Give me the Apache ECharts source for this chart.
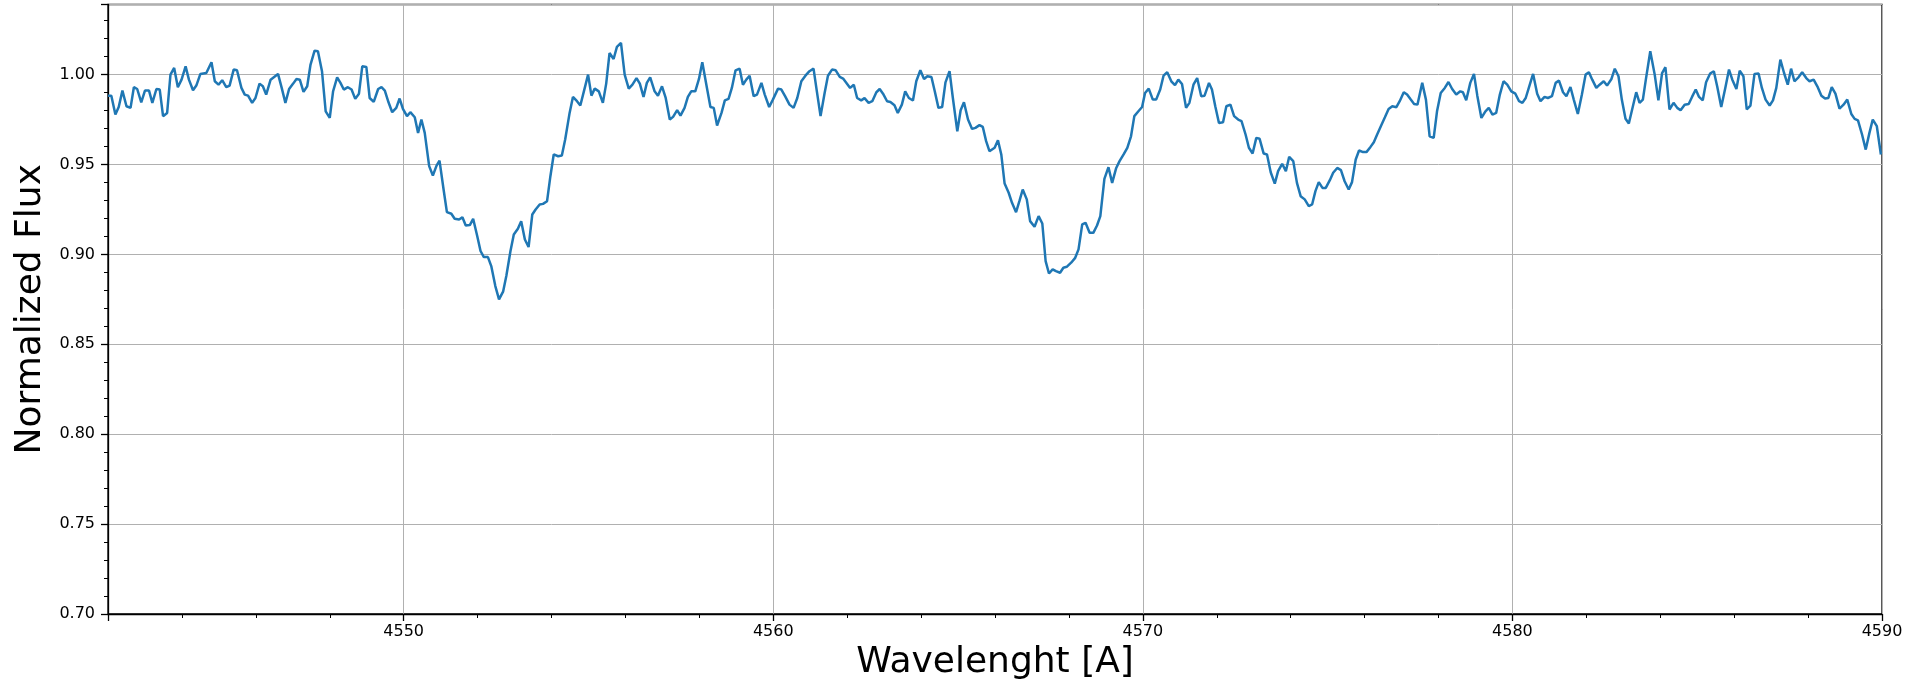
<!DOCTYPE html>
<html>
<head>
<meta charset="utf-8">
<script src="https://cdn.jsdelivr.net/npm/echarts@6/dist/echarts.min.js"></script>
<style>
  html, body { margin: 0; padding: 0; background: #fff; }
  #chart { width: 1907px; height: 686px; }
</style>
</head>
<body>
<div id="chart"></div>
<script>
// Spectrum samples: wavelength in Angstrom and continuum-normalized flux
const wavelength = [
  4542.00, 4542.09, 4542.20, 4542.29, 4542.39, 4542.50, 4542.61, 4542.70, 4542.79, 4542.90,
  4543.00, 4543.11, 4543.20, 4543.31, 4543.40, 4543.49, 4543.60, 4543.69, 4543.79, 4543.89,
  4543.99, 4544.10, 4544.19, 4544.30, 4544.39, 4544.50, 4544.66, 4544.80, 4544.89, 4544.99,
  4545.09, 4545.20, 4545.29, 4545.40, 4545.49, 4545.61, 4545.70, 4545.79, 4545.90, 4545.99,
  4546.10, 4546.19, 4546.28, 4546.40, 4546.60, 4546.70, 4546.80, 4546.90, 4547.01, 4547.10,
  4547.19, 4547.29, 4547.39, 4547.48, 4547.59, 4547.68, 4547.79, 4547.89, 4548.00,
  4548.09, 4548.20, 4548.29, 4548.38, 4548.49, 4548.59, 4548.69, 4548.79, 4548.88, 4548.99,
  4549.08, 4549.19, 4549.31, 4549.40, 4549.49, 4549.59, 4549.69, 4549.80, 4549.89, 4549.98,
  4550.09, 4550.18, 4550.30, 4550.39, 4550.48, 4550.57, 4550.69, 4550.79, 4550.89, 4550.97,
  4551.08, 4551.17, 4551.29, 4551.38, 4551.50, 4551.59, 4551.68, 4551.79, 4551.88, 4551.99,
  4552.08, 4552.17, 4552.28, 4552.37, 4552.48, 4552.58, 4552.69, 4552.78, 4552.89, 4552.98,
  4553.09, 4553.18, 4553.28, 4553.38, 4553.48, 4553.57, 4553.68, 4553.77, 4553.88, 4553.97,
  4554.06, 4554.18, 4554.28, 4554.37, 4554.49, 4554.58, 4554.69, 4554.78, 4554.90, 4554.99,
  4555.08, 4555.17, 4555.28, 4555.39, 4555.48, 4555.57, 4555.68, 4555.77, 4555.88, 4555.98,
  4556.09, 4556.19, 4556.30, 4556.39, 4556.49, 4556.58, 4556.67, 4556.79, 4556.88, 4556.99,
  4557.09, 4557.20, 4557.29, 4557.40, 4557.49, 4557.60, 4557.69, 4557.78, 4557.89, 4557.99,
  4558.08, 4558.19, 4558.30, 4558.39, 4558.48, 4558.60, 4558.69, 4558.79, 4558.88, 4558.98,
  4559.09, 4559.18, 4559.27, 4559.36, 4559.47, 4559.56, 4559.68, 4559.77, 4559.89,
  4559.99, 4560.13, 4560.22, 4560.32, 4560.44, 4560.55, 4560.65, 4560.76, 4560.87, 4560.98,
  4561.09, 4561.18, 4561.28, 4561.39, 4561.48, 4561.59, 4561.69, 4561.80, 4561.89, 4561.98,
  4562.08, 4562.18, 4562.27, 4562.38, 4562.47, 4562.58, 4562.68, 4562.79, 4562.88, 4562.97,
  4563.08, 4563.17, 4563.28, 4563.37, 4563.48, 4563.57, 4563.67, 4563.78, 4563.87, 4563.98,
  4564.08, 4564.17, 4564.28, 4564.37, 4564.47, 4564.57, 4564.66, 4564.77, 4564.86, 4564.98,
  4565.07, 4565.16, 4565.27, 4565.38, 4565.47, 4565.58, 4565.67, 4565.76, 4565.85,
  4565.99, 4566.08, 4566.17, 4566.26, 4566.37, 4566.46, 4566.57, 4566.66, 4566.75, 4566.86,
  4566.95, 4567.07, 4567.18, 4567.28, 4567.37, 4567.46, 4567.56, 4567.65, 4567.76, 4567.85,
  4567.94, 4568.06, 4568.17, 4568.26, 4568.36, 4568.45, 4568.56, 4568.66, 4568.76, 4568.85,
  4568.96, 4569.07, 4569.17, 4569.28, 4569.37, 4569.48, 4569.58, 4569.68, 4569.77, 4569.88,
  4569.98, 4570.06, 4570.16, 4570.27, 4570.36, 4570.47, 4570.56, 4570.66, 4570.77, 4570.87,
  4570.96, 4571.06, 4571.17, 4571.26, 4571.37, 4571.47, 4571.58, 4571.67, 4571.79,
  4571.87, 4571.96, 4572.06, 4572.17, 4572.26, 4572.37, 4572.47, 4572.58, 4572.67, 4572.78,
  4572.87, 4572.97, 4573.07, 4573.16, 4573.27, 4573.36, 4573.46, 4573.57, 4573.66, 4573.77,
  4573.87, 4573.96, 4574.07, 4574.17, 4574.27, 4574.38, 4574.49, 4574.58, 4574.67, 4574.76,
  4574.86, 4574.95, 4575.06, 4575.15, 4575.26, 4575.36, 4575.46, 4575.57, 4575.66, 4575.76,
  4575.85, 4575.96, 4576.05, 4576.16, 4576.25, 4576.34, 4576.44, 4576.55, 4576.65, 4576.75,
  4576.86, 4576.95, 4577.06, 4577.15, 4577.25, 4577.34, 4577.43, 4577.56, 4577.66, 4577.76,
  4577.87, 4577.96, 4578.06, 4578.17, 4578.27, 4578.37, 4578.48, 4578.59, 4578.66, 4578.75,
  4578.86, 4578.96, 4579.05, 4579.16, 4579.27, 4579.36, 4579.46, 4579.56, 4579.66, 4579.76,
  4579.86, 4579.97, 4580.08, 4580.18, 4580.27, 4580.36, 4580.47, 4580.56, 4580.67, 4580.76,
  4580.87, 4580.96, 4581.07, 4581.17, 4581.26, 4581.37, 4581.46, 4581.57, 4581.66, 4581.77,
  4581.88, 4581.98, 4582.07, 4582.16, 4582.27, 4582.36, 4582.47, 4582.56, 4582.68, 4582.77,
  4582.87, 4582.96, 4583.06, 4583.15, 4583.26, 4583.35, 4583.44, 4583.53, 4583.61, 4583.73,
  4583.85, 4583.95, 4584.05, 4584.14, 4584.25, 4584.36, 4584.46, 4584.55, 4584.66, 4584.77,
  4584.86, 4584.96, 4585.05, 4585.15, 4585.24, 4585.35, 4585.45, 4585.54, 4585.65, 4585.76,
  4585.86, 4585.95, 4586.06, 4586.15, 4586.25, 4586.34, 4586.44, 4586.55, 4586.66, 4586.75,
  4586.85, 4586.96, 4587.05, 4587.14, 4587.25, 4587.35, 4587.45, 4587.54, 4587.63, 4587.74,
  4587.84, 4587.95, 4588.04, 4588.15, 4588.25, 4588.36, 4588.46, 4588.55, 4588.64, 4588.74,
  4588.85, 4588.96, 4589.06, 4589.17, 4589.26, 4589.35, 4589.46, 4589.56, 4589.66, 4589.75,
  4589.86, 4589.97
];

const flux = [
  0.9883, 0.9883, 0.9778, 0.9820, 0.9911, 0.9824, 0.9815, 0.9930, 0.9920, 0.9846,
  0.9911, 0.9911, 0.9843, 0.9920, 0.9917, 0.9769, 0.9787, 1.0000, 1.0037, 0.9930,
  0.9972, 1.0046, 0.9972, 0.9913, 0.9939, 1.0004, 1.0009, 1.0069, 0.9963, 0.9944,
  0.9969, 0.9930, 0.9939, 1.0028, 1.0024, 0.9926, 0.9889, 0.9883, 0.9843, 0.9870,
  0.9950, 0.9935, 0.9889, 0.9972, 1.0004, 0.9926, 0.9843, 0.9920, 0.9950, 0.9976,
  0.9972, 0.9904, 0.9935, 1.0056, 1.0133, 1.0130, 1.0019, 0.9796, 0.9759,
  0.9907, 0.9985, 0.9954, 0.9917, 0.9930, 0.9917, 0.9865, 0.9894, 1.0046, 1.0043,
  0.9870, 0.9848, 0.9920, 0.9930, 0.9911, 0.9846, 0.9791, 0.9815, 0.9867, 0.9809,
  0.9769, 0.9791, 0.9763, 0.9676, 0.9750, 0.9676, 0.9491, 0.9439, 0.9494, 0.9522,
  0.9361, 0.9235, 0.9226, 0.9198, 0.9194, 0.9207, 0.9161, 0.9163, 0.9198, 0.9102,
  0.9019, 0.8985, 0.8985, 0.8935, 0.8824, 0.8750, 0.8793, 0.8883, 0.9019, 0.9111,
  0.9143, 0.9185, 0.9083, 0.9041, 0.9222, 0.9250, 0.9278, 0.9281, 0.9296, 0.9435,
  0.9556, 0.9546, 0.9550, 0.9639, 0.9787, 0.9876, 0.9852, 0.9828, 0.9926, 1.0000,
  0.9883, 0.9922, 0.9907, 0.9843, 0.9950, 1.0120, 1.0087, 1.0154, 1.0176, 1.0000,
  0.9922, 0.9944, 0.9981, 0.9950, 0.9876, 0.9954, 0.9985, 0.9907, 0.9883, 0.9935,
  0.9870, 0.9750, 0.9765, 0.9802, 0.9772, 0.9815, 0.9876, 0.9907, 0.9907, 0.9976,
  1.0069, 0.9944, 0.9820, 0.9815, 0.9717, 0.9787, 0.9857, 0.9865, 0.9926, 1.0024,
  1.0033, 0.9944, 0.9972, 0.9994, 0.9880, 0.9889, 0.9954, 0.9889, 0.9820,
  0.9861, 0.9922, 0.9917, 0.9880, 0.9833, 0.9815, 0.9870, 0.9963, 0.9994, 1.0019,
  1.0033, 0.9907, 0.9769, 0.9898, 0.9994, 1.0028, 1.0024, 0.9987, 0.9978, 0.9954,
  0.9926, 0.9944, 0.9870, 0.9857, 0.9869, 0.9843, 0.9852, 0.9902, 0.9920, 0.9894,
  0.9852, 0.9848, 0.9830, 0.9787, 0.9833, 0.9907, 0.9870, 0.9856, 0.9963, 1.0024,
  0.9976, 0.9991, 0.9987, 0.9907, 0.9815, 0.9820, 0.9957, 1.0019, 0.9870, 0.9685,
  0.9802, 0.9846, 0.9750, 0.9698, 0.9704, 0.9719, 0.9709, 0.9630, 0.9574,
  0.9593, 0.9635, 0.9556, 0.9394, 0.9343, 0.9287, 0.9235, 0.9296, 0.9361, 0.9306,
  0.9185, 0.9154, 0.9213, 0.9172, 0.8963, 0.8894, 0.8917, 0.8907, 0.8898, 0.8926,
  0.8931, 0.8954, 0.8981, 0.9028, 0.9167, 0.9176, 0.9120, 0.9120, 0.9161, 0.9213,
  0.9420, 0.9485, 0.9398, 0.9481, 0.9519, 0.9556, 0.9593, 0.9657, 0.9769, 0.9796,
  0.9820, 0.9898, 0.9922, 0.9861, 0.9861, 0.9917, 0.9994, 1.0013, 0.9963, 0.9941,
  0.9972, 0.9948, 0.9815, 0.9843, 0.9944, 0.9981, 0.9880, 0.9883, 0.9954,
  0.9917, 0.9824, 0.9731, 0.9735, 0.9824, 0.9833, 0.9769, 0.9750, 0.9741, 0.9667,
  0.9593, 0.9561, 0.9648, 0.9643, 0.9561, 0.9556, 0.9457, 0.9394, 0.9463, 0.9504,
  0.9463, 0.9543, 0.9519, 0.9398, 0.9324, 0.9306, 0.9269, 0.9278, 0.9352, 0.9402,
  0.9370, 0.9370, 0.9413, 0.9454, 0.9481, 0.9469, 0.9407, 0.9361, 0.9402, 0.9528,
  0.9578, 0.9569, 0.9569, 0.9598, 0.9624, 0.9667, 0.9713, 0.9763, 0.9809, 0.9824,
  0.9819, 0.9852, 0.9902, 0.9889, 0.9861, 0.9837, 0.9833, 0.9954, 0.9861, 0.9657,
  0.9648, 0.9796, 0.9898, 0.9926, 0.9959, 0.9920, 0.9889, 0.9907, 0.9902, 0.9857,
  0.9954, 1.0004, 0.9883, 0.9759, 0.9796, 0.9815, 0.9778, 0.9787, 0.9889, 0.9963,
  0.9944, 0.9907, 0.9894, 0.9852, 0.9843, 0.9870, 0.9944, 1.0004, 0.9894, 0.9852,
  0.9876, 0.9870, 0.9880, 0.9954, 0.9967, 0.9902, 0.9880, 0.9931, 0.9861, 0.9781,
  0.9889, 1.0000, 1.0013, 0.9972, 0.9926, 0.9944, 0.9963, 0.9939, 0.9976, 1.0033,
  0.9991, 0.9861, 0.9754, 0.9728, 0.9824, 0.9902, 0.9843, 0.9861, 0.9972, 1.0130,
  1.0000, 0.9857, 1.0009, 1.0041, 0.9806, 0.9843, 0.9815, 0.9802, 0.9833, 0.9837,
  0.9876, 0.9917, 0.9876, 0.9857, 0.9957, 1.0006, 1.0019, 0.9935, 0.9820, 0.9926,
  1.0028, 0.9972, 0.9920, 1.0022, 0.9991, 0.9806, 0.9828, 1.0004, 1.0006, 0.9926,
  0.9861, 0.9828, 0.9857, 0.9926, 1.0083, 1.0009, 0.9944, 1.0033, 0.9963, 0.9985,
  1.0013, 0.9981, 0.9963, 0.9972, 0.9935, 0.9883, 0.9867, 0.9870, 0.9930, 0.9894,
  0.9811, 0.9833, 0.9861, 0.9781, 0.9754, 0.9746, 0.9667, 0.9583, 0.9676, 0.9750,
  0.9713, 0.9556
];

// Axis ranges and tick spacing
const xRange = [4542, 4590];
const yRange = [0.70, 1.039];
const xMajorStep = 10;
const yMajorStep = 0.05;

const FONT = 'DejaVu Sans';
const INK = '#000000';

const chart = echarts.init(document.getElementById('chart'), null, { renderer: 'canvas' });

chart.setOption({
  animation: false,
  backgroundColor: '#ffffff',
  grid: {
    left: 108, right: 25, top: 4.5, bottom: 72,
    show: true,
    borderColor: INK,
    borderWidth: 1.3,
    backgroundColor: 'transparent'
  },
  xAxis: {
    type: 'value',
    min: xRange[0],
    max: xRange[1],
    minInterval: xMajorStep,
    maxInterval: xMajorStep,
    name: 'Wavelenght [A]',
    nameLocation: 'middle',
    nameGap: 31,
    nameTextStyle: { fontFamily: FONT, fontSize: 36, color: INK },
    axisLine: { show: true, onZero: false, lineStyle: { color: INK, width: 1.3 } },
    axisTick: { show: true, inside: false, length: 7, lineStyle: { color: INK, width: 1.3 } },
    minorTick: { show: true, splitNumber: 5, length: 4, lineStyle: { color: INK, width: 1 } },
    axisLabel: {
      fontFamily: FONT, fontSize: 16, color: INK, margin: 10,
      showMinLabel: false, showMaxLabel: true,
      formatter: v => String(Math.round(v))
    },
    splitLine: { show: true, lineStyle: { color: '#b0b0b0', width: 1 } },
    minorSplitLine: { show: false }
  },
  yAxis: {
    type: 'value',
    min: yRange[0],
    max: yRange[1],
    minInterval: yMajorStep,
    maxInterval: yMajorStep,
    name: 'Normalized Flux',
    nameLocation: 'middle',
    nameGap: 52,
    nameTextStyle: { fontFamily: FONT, fontSize: 36, color: INK },
    axisLine: { show: true, onZero: false, lineStyle: { color: INK, width: 1.3 } },
    axisTick: { show: true, inside: false, length: 7, lineStyle: { color: INK, width: 1.3 } },
    minorTick: { show: true, splitNumber: 5, length: 4, lineStyle: { color: INK, width: 1 } },
    axisLabel: {
      fontFamily: FONT, fontSize: 16, color: INK, margin: 13,
      showMinLabel: true, showMaxLabel: false,
      formatter: v => v.toFixed(2)
    },
    splitLine: { show: true, lineStyle: { color: '#b0b0b0', width: 1 } },
    minorSplitLine: { show: false }
  },
  series: [{
    type: 'line',
    data: wavelength.map((w, i) => [w, flux[i]]),
    showSymbol: false,
    clip: true,
    lineStyle: { color: '#1f77b4', width: 2.5 },
    emphasis: { disabled: true }
  }]
});
</script>
</body>
</html>
